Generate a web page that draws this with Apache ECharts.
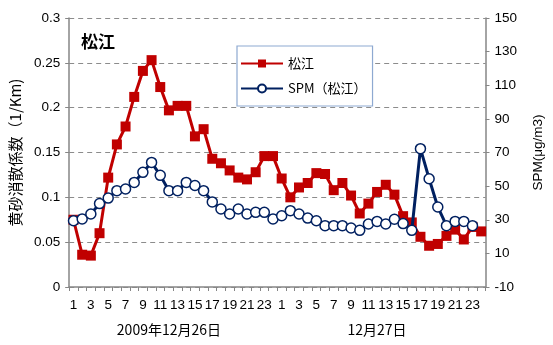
<!DOCTYPE html>
<html>
<head>
<meta charset="utf-8">
<script src="https://cdn.jsdelivr.net/npm/echarts@6/dist/echarts.min.js"></script>
<style>
  html, body { margin: 0; padding: 0; background: #fff; }
  #chart { width: 553px; height: 345px; }
</style>
</head>
<body>
<div id="chart"></div>
<script>
// Hourly observations at Matsue, 26-27 Dec 2009
const hours = [1,2,3,4,5,6,7,8,9,10,11,12,13,14,15,16,17,18,19,20,21,22,23,24,
               1,2,3,4,5,6,7,8,9,10,11,12,13,14,15,16,17,18,19,20,21,22,23,24];
const dayLabels = { 11: '2009年12月26日', 35: '12月27日' };

// Kosa (yellow sand) extinction coefficient, 1/km (left axis)
const extinction = [0.075,0.036,0.035,0.060,0.122,0.159,0.179,0.212,0.241,0.253,0.223,0.197,
                    0.202,0.202,0.168,0.176,0.143,0.138,0.130,0.122,0.120,0.128,0.146,0.146,
                    0.121,0.100,0.111,0.116,0.127,0.126,0.108,0.116,0.102,0.082,0.093,0.106,
                    0.114,0.103,0.079,0.072,0.056,0.046,0.048,0.057,0.064,0.053,0.067,0.062];

// Suspended particulate matter, µg/m3 (right axis)
const spm = [29.4,30.5,33.4,39.6,42.9,47.3,48.3,52.2,58.2,64.1,56.4,47.3,
             47.3,52.2,50.4,47.3,40.6,36.4,33.4,36.4,33.4,34.4,34.4,30.5,
             32.4,35.4,33.4,31.0,29.4,26.5,26.5,26.5,25.1,23.7,27.5,29.0,
             27.5,30.3,27.7,23.7,72.3,54.4,37.6,26.5,29.0,29.0,26.5,null];

const leftTicks = { min: 0, max: 0.3, step: 0.05 };
const rightTicks = { min: -10, max: 150, step: 20 };

const RED = '#C00000';
const NAVY = '#002060';
const AXIS = '#868686';
const FONT = '"Liberation Sans", "Noto Sans CJK JP", sans-serif';
const CJK = '"Noto Sans CJK JP", sans-serif';

const chart = echarts.init(document.getElementById('chart'), null, { renderer: 'canvas' });

chart.setOption({
  animation: false,
  backgroundColor: '#fff',
  textStyle: { fontFamily: FONT, color: '#000' },
  title: {
    text: '松江',
    left: 76, top: 28,
    textStyle: { fontFamily: CJK, fontSize: 17, fontWeight: 'bold', color: '#000' }
  },
  legend: {
    orient: 'vertical',
    left: 237, top: 46,
    width: 133,
    padding: [11, 6, 11, 3],
    itemGap: 12,
    itemWidth: 42,
    itemHeight: 10,
    borderColor: '#8EA9D1',
    borderWidth: 1.2,
    backgroundColor: '#fff',
    textStyle: { fontFamily: CJK, fontSize: 13, color: '#000' },
    data: ['松江', 'SPM（松江）']
  },
  grid: { left: 68, right: 64, top: 18, bottom: 58, containLabel: false },
  xAxis: [
    {
      type: 'category',
      data: hours,
      boundaryGap: true,
      axisLine: { lineStyle: { color: AXIS, width: 1.5 } },
      axisTick: { show: true, interval: 0, length: 4, lineStyle: { color: AXIS } },
      axisLabel: { interval: 1, margin: 12, fontSize: 13.5, color: '#000', fontFamily: FONT },
      splitLine: { show: false }
    },
    {
      type: 'category',
      data: hours.map((h, i) => dayLabels[i] || ''),
      position: 'bottom',
      offset: 24,
      boundaryGap: true,
      axisLine: { show: false },
      axisTick: { show: false },
      axisLabel: { interval: 0, margin: 12, fontSize: 14, color: '#000', fontFamily: CJK },
      splitLine: { show: false }
    }
  ],
  yAxis: [
    {
      type: 'value',
      min: leftTicks.min, max: leftTicks.max, interval: leftTicks.step,
      name: '黄砂消散係数（1/Km)',
      nameLocation: 'middle',
      nameGap: 38,
      nameRotate: 90,
      nameTextStyle: { fontFamily: CJK, fontSize: 15, color: '#000' },
      axisLine: { show: true, lineStyle: { color: AXIS, width: 1.5 } },
      axisTick: { show: true, length: 4, lineStyle: { color: AXIS } },
      axisLabel: { margin: 9, fontSize: 13.5, color: '#000', fontFamily: FONT },
      splitLine: { show: true, lineStyle: { color: '#8C8C8C', type: [5, 4], width: 1.2 } }
    },
    {
      type: 'value',
      min: rightTicks.min, max: rightTicks.max, interval: rightTicks.step,
      name: 'SPM(μg/m3)',
      nameLocation: 'middle',
      nameGap: 46,
      nameRotate: 90,
      nameTextStyle: { fontFamily: FONT, fontSize: 13.5, color: '#000' },
      axisLine: { show: true, lineStyle: { color: AXIS, width: 1.5 } },
      axisTick: { show: true, length: 4, lineStyle: { color: AXIS } },
      axisLabel: { margin: 9, fontSize: 13.5, color: '#000', fontFamily: FONT },
      splitLine: { show: false }
    }
  ],
  series: [
    {
      name: '松江',
      type: 'line',
      yAxisIndex: 0,
      data: extinction,
      symbol: 'rect',
      symbolSize: 10,
      showAllSymbol: true,
      lineStyle: { color: RED, width: 3 },
      itemStyle: { color: RED, borderColor: RED, borderWidth: 0 },
      z: 2
    },
    {
      name: 'SPM（松江）',
      type: 'line',
      yAxisIndex: 1,
      data: spm,
      symbol: 'circle',
      symbolSize: 10,
      showAllSymbol: true,
      lineStyle: { color: NAVY, width: 3 },
      itemStyle: { color: '#fff', borderColor: NAVY, borderWidth: 1.5 },
      z: 3
    }
  ]
});
</script>
</body>
</html>
